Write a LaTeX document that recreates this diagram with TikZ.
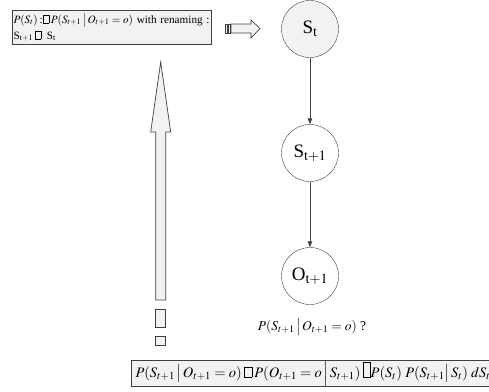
\documentclass[tikz,border=0pt]{standalone}
\usepackage{mathptmx}
\usepackage{fontspec}
\setmainfont{Liberation Serif}
\usetikzlibrary{arrows.meta,positioning}
\definecolor{ink}{RGB}{64,64,64}
\definecolor{soft}{RGB}{242,242,242}
\tikzset{
  state/.style={draw=ink,circle,minimum size=57pt,inner sep=0pt,
    font=\fontsize{19}{22}\selectfont},
  notebox/.style={draw=ink,fill=soft,line width=1pt,align=left,inner xsep=2pt,inner ysep=1pt},
  link/.style={-{Triangle[length=6pt,width=4.5pt]},draw=ink,line width=0.7pt},
  hollow/.style={draw=ink,fill=soft,line width=0.7pt},
}
% empty glyph box, as the picture prints it
\newcommand{\nog}[1][0.68em]{{\setlength\fboxsep{0pt}\setlength\fboxrule{0.3pt}%
  \fbox{\rule{0pt}{#1}\hspace{0.5em}}}}
\begin{document}
\begin{tikzpicture}[x=1pt,y=-1pt]
  \useasboundingbox (0,0) rectangle (489,391);
  % note boxes
  \node[notebox,anchor=north west,text width=197pt,inner xsep=1pt,minimum height=34pt,
    font=\fontsize{11.2}{16}\selectfont] (topnote) at (12,10)
    {\mbox{$P(S_t)$\,:\nog\,$P(S_{t+1}\,\big|\,O_{t+1}=o)$ with renaming :}\\
     S$_\mathrm{t+1}$\,\nog\ \,S$_\mathrm{t}$};
  \node[notebox,anchor=north west,minimum height=25pt,inner xsep=4pt,inner ysep=0pt,
    font=\fontsize{14.5}{16}\selectfont] (formula) at (131,360)
    {$P(S_{t+1}\,\big|\,O_{t+1}=o)$\,\nog\,$P(O_{t+1}=o\,\Big|\,S_{t+1})$\,\nog[1.0em]$P(S_t)\;P(S_{t+1}\big|\,S_t)\;dS_t$};
  % network
  \node[state,fill=soft] (st) at (310,29) {S$_\mathrm{t}$};
  \node[state,fill=white] (stnext) at (310,153) {S$_\mathrm{t+1}$};
  \node[state,fill=white] (onext) at (310,276) {O$_\mathrm{t+1}$};
  \draw[link] (st) -- (stnext);
  \draw[link] (stnext) -- (onext);
  \node[font=\fontsize{13.5}{15}\selectfont] (query) at (312,327)
    {$P(S_{t+1}\,\big|\,O_{t+1}=o)$\ ?};
  % block arrows
  \draw[hollow] (231,24) -- (251,24) -- (251,20) -- (260,28.5) -- (251,38)
    -- (251,33) -- (231,33) -- cycle;
  \draw[hollow] (225,24) rectangle (227,33);
  \draw[hollow] (228,24) rectangle (230,33);
  \draw[hollow] (160.7,62) -- (170.7,132) -- (165.7,132) -- (165.7,300)
    -- (155.7,300) -- (155.7,132) -- (150.7,132) -- cycle;
  \draw[hollow] (155.7,309) rectangle (165.7,327);
  \draw[hollow] (155.7,336) rectangle (165.7,345);
\end{tikzpicture}
\end{document}
